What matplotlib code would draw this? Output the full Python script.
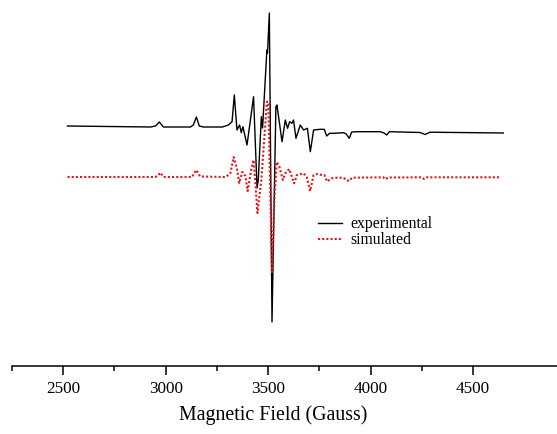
import matplotlib
matplotlib.use("Agg")
import matplotlib.pyplot as plt
from matplotlib.ticker import FixedLocator

# Experimental spectrum (field in Gauss, intensity in arbitrary units)
exp_field = [2521, 2926, 2950, 2969, 2989, 3121, 3135, 3150, 3164, 3184,
             3277, 3306, 3324, 3335, 3348, 3361, 3369, 3377, 3397, 3429,
             3446, 3452, 3467, 3473, 3494, 3497, 3506, 3519, 3538, 3543,
             3551, 3568, 3584, 3595, 3605, 3616, 3624, 3636, 3657, 3673,
             3692, 3706, 3722, 3754, 3774, 3786, 3800, 3819, 3868, 3881,
             3896, 3908, 3933, 4047, 4066, 4079, 4092, 4242, 4266, 4290,
             4648]
exp_int = [2, 1, 2, 6, 1, 1, 3, 11, 2, 1,
           1, 3, 6.3, 33, -2, 3, -4.7, 1.3, -17, 31.3,
           -60, -52, 11.3, 0, 78, 75, 115, -194, 21.3, 23,
           11.3, -13.7, 8, -0.3, 6.3, 4.7, 8, -10.3, 3, -2,
           -0.3, -23.7, -2, -1.3, -1.3, -8, -5.3, -5.3, -4.7, -6,
           -10.3, -4, -3.7, -3.7, -5, -7, -3.7, -4.5, -6.5, -4.2,
           -5]

# Simulated spectrum
sim_field = [2521, 2950, 2965, 2974, 2990, 3129, 3140, 3150, 3160, 3169,
             3291, 3307, 3316, 3332, 3347, 3359, 3374, 3389, 3400, 3420,
             3429, 3437, 3448, 3467, 3494, 3501, 3519, 3530, 3542, 3554,
             3572, 3584, 3603, 3616, 3627, 3641, 3673, 3689, 3705, 3722,
             3738, 3763, 3774, 3788, 3811, 3836, 3868, 3881, 3896, 3909,
             4063, 4071, 4087, 4250, 4261, 4274, 4631]
sim_int = [0, 0, 2, 4.3, 0, 0, 4, 7, 3, 0.5,
           0, 2, 4, 20, 9, -6, 5, 1, -14, 10,
           17, -3, -36, -3, 75.3, 75, -95, -23, 15, 11,
           -3, 3.7, 8, 0.3, -6.3, 2, 3.7, -0.3, -14, 2,
           3, 2, 2, -4.5, -1.3, -0.7, -0.7, -3, -4, -0.7,
           -0.3, -2.3, -0.5, -0.3, -2, -0.3, -0.3]

sim_offset = -49
major_ticks = [2500, 3000, 3500, 4000, 4500]
minor_ticks = [2250, 2750, 3250, 3750, 4250]

plt.rcParams['font.family'] = ['Liberation Serif', 'DejaVu Serif']

fig = plt.figure(figsize=(5.57, 4.34), dpi=100)
ax = fig.add_axes([12 / 557, 68 / 434, 1 - 12 / 557, 1 - 68 / 434])

ax.plot(exp_field, exp_int, color='black', lw=1.0, label='experimental')
ax.plot(sim_field, [v + sim_offset for v in sim_int], color='#e3161c',
        lw=1.5, linestyle=(0, (1, 1)), label='simulated')

ax.set_xlim(2250, 4910)
ax.set_ylim(-238, 128)

for s in ['top', 'left', 'right']:
    ax.spines[s].set_visible(False)
ax.spines['bottom'].set_linewidth(1.1)
ax.set_yticks([])
ax.xaxis.set_major_locator(FixedLocator(major_ticks))
ax.xaxis.set_minor_locator(FixedLocator(minor_ticks))
ax.tick_params(axis='x', which='major', length=6.5, width=1.1, labelsize=12.3, pad=4)
ax.tick_params(axis='x', which='minor', length=3.6, width=1.1)
ax.set_xlabel('Magnetic Field (Gauss)', fontsize=14.3)
ax.xaxis.set_label_coords((273 - 12) / 545, -39 / 366)

ax.legend(loc='center left', bbox_to_anchor=(318 / 557, (434 - 232.5) / 434),
          bbox_transform=fig.transFigure, frameon=False, fontsize=11.3,
          handlelength=1.5, handletextpad=0.55, labelspacing=0.0,
          borderpad=0, borderaxespad=0)

fig.savefig('out.png', dpi=100)
